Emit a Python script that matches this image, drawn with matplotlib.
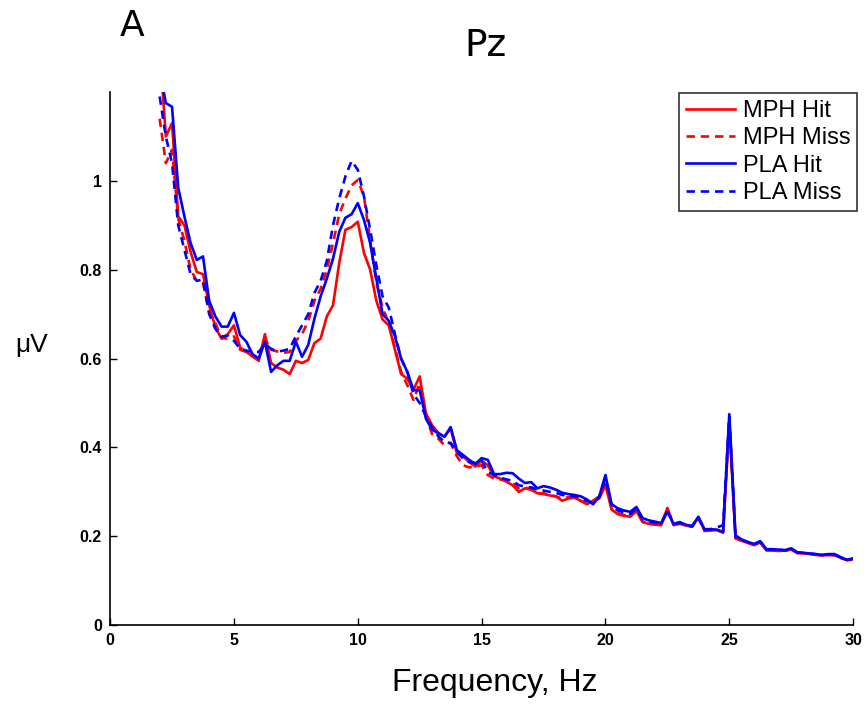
import numpy as np
import matplotlib
matplotlib.use("Agg")
import matplotlib.pyplot as plt

plt.rcParams["font.family"] = ["Liberation Sans", "DejaVu Sans"]

# frequency grid, 0.25 Hz steps from 2 to 30 Hz
freq = np.arange(2.0, 30.001, 0.25)

mph_hit = [
    1.30, 1.10, 1.13, 0.92,
    0.90, 0.84, 0.795, 0.79,
    0.72, 0.67, 0.645, 0.655,
    0.675, 0.625, 0.615, 0.605,
    0.595, 0.655, 0.59, 0.58,
    0.575, 0.565, 0.595, 0.59,
    0.597, 0.635, 0.645, 0.695,
    0.72, 0.815, 0.89, 0.896,
    0.908, 0.838, 0.80, 0.73,
    0.688, 0.675, 0.62, 0.565,
    0.555, 0.53, 0.56, 0.477,
    0.45, 0.433, 0.424, 0.443,
    0.387, 0.38, 0.367, 0.357,
    0.37, 0.36, 0.335, 0.33,
    0.323, 0.315, 0.30, 0.308,
    0.305, 0.297, 0.295, 0.292,
    0.29, 0.28, 0.285, 0.287,
    0.28, 0.272, 0.28, 0.285,
    0.315, 0.26, 0.25, 0.246,
    0.244, 0.257, 0.232, 0.228,
    0.226, 0.225, 0.264, 0.225,
    0.228, 0.224, 0.222, 0.242,
    0.212, 0.213, 0.214, 0.208,
    0.46, 0.195, 0.19, 0.185,
    0.18, 0.186, 0.168, 0.168,
    0.167, 0.168, 0.17, 0.162,
    0.162, 0.16, 0.158, 0.157,
    0.158, 0.157, 0.152, 0.146,
    0.148,
]

mph_miss = [
    1.14, 1.04, 1.07, 0.915,
    0.865, 0.80, 0.775, 0.77,
    0.705, 0.68, 0.646, 0.645,
    0.65, 0.62, 0.615, 0.605,
    0.597, 0.645, 0.62, 0.616,
    0.613, 0.615, 0.64, 0.655,
    0.685, 0.73, 0.757, 0.80,
    0.86, 0.925, 0.96, 0.99,
    1.002, 0.965, 0.865, 0.77,
    0.715, 0.68, 0.625, 0.57,
    0.54, 0.507, 0.545, 0.47,
    0.43, 0.42, 0.405, 0.41,
    0.38, 0.36, 0.355, 0.357,
    0.36, 0.338, 0.33, 0.328,
    0.325, 0.32, 0.308, 0.31,
    0.305, 0.297, 0.297, 0.292,
    0.29, 0.285, 0.288, 0.29,
    0.28, 0.275, 0.28, 0.29,
    0.32, 0.262, 0.252, 0.248,
    0.246, 0.258, 0.233, 0.23,
    0.227, 0.226, 0.262, 0.226,
    0.23, 0.225, 0.222, 0.24,
    0.214, 0.214, 0.213, 0.21,
    0.455, 0.197, 0.19, 0.186,
    0.181, 0.186, 0.17, 0.168,
    0.168, 0.168, 0.171, 0.163,
    0.162, 0.16, 0.159, 0.157,
    0.158, 0.158, 0.151, 0.147,
    0.15,
]

pla_hit = [
    1.25, 1.175, 1.167, 0.985,
    0.92, 0.86, 0.822, 0.83,
    0.73, 0.695, 0.672, 0.672,
    0.703, 0.653, 0.638, 0.61,
    0.60, 0.638, 0.57, 0.585,
    0.595, 0.595, 0.638, 0.604,
    0.631, 0.69, 0.74, 0.78,
    0.825, 0.885, 0.917, 0.925,
    0.95, 0.912, 0.86, 0.78,
    0.70, 0.685, 0.65, 0.60,
    0.57, 0.529, 0.529, 0.465,
    0.44, 0.432, 0.424, 0.446,
    0.394, 0.383, 0.372, 0.363,
    0.376, 0.372, 0.34, 0.34,
    0.343, 0.342, 0.33, 0.32,
    0.322, 0.308, 0.313, 0.31,
    0.305, 0.298, 0.295, 0.293,
    0.29, 0.283, 0.272, 0.29,
    0.338, 0.272, 0.263, 0.258,
    0.255, 0.266, 0.241, 0.236,
    0.233, 0.23, 0.255, 0.228,
    0.232, 0.226, 0.223, 0.244,
    0.216, 0.216, 0.215, 0.21,
    0.475, 0.202, 0.193, 0.187,
    0.183, 0.189, 0.171, 0.171,
    0.17, 0.169, 0.173, 0.164,
    0.163, 0.161, 0.16, 0.158,
    0.16, 0.16, 0.153, 0.147,
    0.15,
]

pla_miss = [
    1.19, 1.10, 1.04, 0.90,
    0.845, 0.79, 0.775, 0.778,
    0.70, 0.667, 0.649, 0.652,
    0.64, 0.622, 0.618, 0.615,
    0.615, 0.632, 0.622, 0.616,
    0.618, 0.622, 0.65, 0.675,
    0.70, 0.748, 0.775, 0.82,
    0.90, 0.96, 1.01, 1.045,
    1.025, 0.965, 0.89, 0.81,
    0.74, 0.715, 0.655, 0.60,
    0.57, 0.52, 0.50, 0.47,
    0.445, 0.425, 0.412, 0.41,
    0.39, 0.375, 0.367, 0.365,
    0.37, 0.345, 0.338, 0.332,
    0.328, 0.325, 0.315, 0.312,
    0.31, 0.305, 0.303, 0.30,
    0.298, 0.293, 0.292, 0.29,
    0.288, 0.28, 0.275, 0.288,
    0.33, 0.268, 0.258, 0.254,
    0.25, 0.262, 0.238, 0.234,
    0.23, 0.228, 0.258, 0.228,
    0.23, 0.226, 0.222, 0.243,
    0.215, 0.216, 0.22, 0.225,
    0.47, 0.20, 0.192, 0.187,
    0.182, 0.188, 0.17, 0.17,
    0.17, 0.168, 0.172, 0.163,
    0.163, 0.161, 0.16, 0.158,
    0.159, 0.159, 0.152, 0.147,
    0.15,
]

fig = plt.figure(figsize=(8.67, 7.08), dpi=100)
ax = fig.add_axes([0.127, 0.117, 0.857, 0.753])

dash = (0, (3.2, 2.2))
ax.plot(freq, mph_hit, color="#ff0000", lw=1.9, label="MPH Hit")
ax.plot(freq, mph_miss, color="#ff0000", lw=1.9, ls=dash, label="MPH Miss")
ax.plot(freq, pla_hit, color="#0000ff", lw=1.9, label="PLA Hit")
ax.plot(freq, pla_miss, color="#0000ff", lw=1.9, ls=dash, label="PLA Miss")

ax.set_xlim(0, 30)
ax.set_ylim(0, 1.2)
ax.set_xticks([0, 5, 10, 15, 20, 25, 30])
ax.set_yticks([0, 0.2, 0.4, 0.6, 0.8, 1.0])
ax.set_yticklabels(["0", "0.2", "0.4", "0.6", "0.8", "1"])
ax.tick_params(direction="in", length=5, width=1, labelsize=11.5, pad=6)
for lab in ax.get_xticklabels() + ax.get_yticklabels():
    lab.set_fontweight("bold")
ax.spines["top"].set_visible(False)
ax.spines["right"].set_visible(False)
for s in ["left", "bottom"]:
    ax.spines[s].set_linewidth(1.2)

ax.set_xlabel("Frequency, Hz", fontsize=23)
ax.xaxis.set_label_coords(0.518, -0.08, transform=ax.transAxes)
ax.set_ylabel("μV", fontsize=19, rotation=0, va="center", ha="center")
ax.yaxis.set_label_coords(-0.106, 0.525, transform=ax.transAxes)

fig.text(0.56, 0.935, "Pz", fontsize=27, ha="center", va="center",
         family=["Liberation Sans Narrow", "DejaVu Sans"])
fig.text(0.152, 0.963, "A", fontsize=26, ha="center", va="center",
         family=["Liberation Sans Narrow", "DejaVu Sans"])

leg = ax.legend(loc="upper right", fontsize=17, handlelength=2.1,
                frameon=True, fancybox=False, borderpad=0.3,
                labelspacing=0.22, handletextpad=0.3, borderaxespad=0,
                bbox_to_anchor=(1.0055, 0.998))
leg.get_frame().set_edgecolor("black")
leg.get_frame().set_linewidth(1.2)

fig.savefig("out.png", dpi=100)
